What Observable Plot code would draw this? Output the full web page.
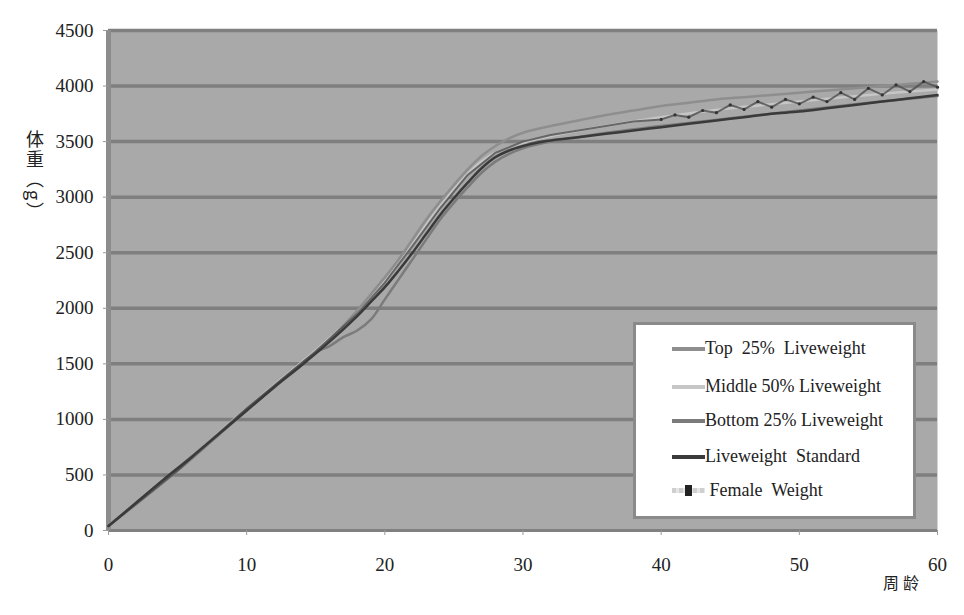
<!DOCTYPE html>
<html>
<head>
<meta charset="utf-8">
<script src="https://cdn.jsdelivr.net/npm/d3@7"></script>
<script src="https://cdn.jsdelivr.net/npm/@observablehq/plot@0.6"></script>
<style>
  html, body { margin: 0; padding: 0; background: #fff; }
  #wrap { position: relative; width: 964px; height: 615px; }
  svg text { font-family: "Liberation Serif", "Times New Roman", "DejaVu Serif", serif !important; }
  .ylab { position: absolute; left: 22px; top: 130px; writing-mode: vertical-rl; font-family: "Noto Sans CJK SC", sans-serif; font-size: 18px; color: #222; letter-spacing: 2px; }
  .xlab { position: absolute; left: 883px; top: 570px; font-family: "Noto Sans CJK SC", sans-serif; font-size: 16px; color: #222; letter-spacing: 4px; }
  #legend { position: absolute; left: 633px; top: 322px; width: 277px; height: 191px; background: #fff; border: 3px solid #8a8a8a; font-family: "Liberation Serif", "Times New Roman", "DejaVu Serif", serif; font-size: 18px; color: #222; }
  .item { position: absolute; left: 36px; display: flex; align-items: center; white-space: nowrap; }
  .sw { width: 33px; height: 4px; margin-right: 0px; position: relative; }
  .fw { background: repeating-linear-gradient(90deg, #cfcfcf 0 4px, #e6e6e6 4px 7px); height: 5px; }
  .fw::after { content: ""; position: absolute; left: 13px; top: -3px; width: 7px; height: 11px; background: #222; }
</style>
</head>
<body>
<div id="wrap"></div>
<script>
// ---- data ----
const seriesNames = ["Top 25% Liveweight", "Middle 50% Liveweight", "Bottom 25% Liveweight", "Liveweight Standard", "Female Weight"];
const seriesColors = ["#8e8e8e", "#c6c6c6", "#7b7b7b", "#3a3a3a", "#4f4f4f"];

const weeksStd = [0,2,4,6,8,10,12,14,16,18,19,20,21,22,23,24,25,26,27,28,29,30,31,32,34,36,38,40,42,44,46,48,50,52,54,56,58,60];
const valsStd  = [40,250,460,660,870,1080,1290,1490,1700,1930,2060,2190,2340,2500,2670,2840,2990,3130,3260,3360,3420,3460,3490,3510,3540,3570,3600,3630,3660,3690,3720,3750,3770,3800,3830,3860,3890,3920];

const weeksTop = [0,5,10,15,16,18,20,21,22,23,24,25,26,27,28,29,30,32,34,36,38,40,42,44,46,48,50,52,54,56,58,60];
const valsTop  = [40,560,1090,1610,1720,1980,2280,2440,2620,2800,2960,3110,3250,3370,3460,3530,3580,3640,3690,3740,3780,3820,3850,3880,3900,3920,3940,3960,3980,4000,4020,4040];

const weeksMid = [0,5,10,15,16,18,20,21,22,23,24,25,26,27,28,29,30,32,35,40,45,50,55,60];
const valsMid  = [40,550,1100,1620,1730,1960,2240,2400,2570,2750,2920,3070,3210,3320,3400,3450,3490,3550,3620,3720,3800,3860,3920,3970];

const weeksBot = [0,5,10,15,16,17,18,19,20,21,22,23,24,25,26,27,28,29,30,32,35,40,45,50,55,60];
const valsBot  = [40,540,1080,1600,1660,1740,1800,1900,2080,2260,2440,2620,2800,2950,3090,3220,3320,3390,3440,3500,3560,3640,3710,3780,3850,3910];

const weeksFem = [0,5,10,15,18,20,22,24,26,28,30,32,34,36,38,40,41,42,43,44,45,46,47,48,49,50,51,52,53,54,55,56,57,58,59,60];
const valsFem  = [40,540,1100,1610,1950,2230,2560,2900,3200,3400,3500,3560,3600,3640,3680,3700,3740,3720,3780,3760,3830,3790,3860,3810,3880,3840,3900,3860,3940,3880,3980,3920,4010,3950,4040,3990];

const xTicks = [0,10,20,30,40,50,60];
const yTicks = [0,500,1000,1500,2000,2500,3000,3500,4000,4500];

// ---- build rows ----
const toRows = (ws, vs, name) => ws.map((w, i) => ({week: w, value: vs[i], series: name}));
const rowsTop = toRows(weeksTop, valsTop, seriesNames[0]);
const rowsMid = toRows(weeksMid, valsMid, seriesNames[1]);
const rowsBot = toRows(weeksBot, valsBot, seriesNames[2]);
const rowsStd = toRows(weeksStd, valsStd, seriesNames[3]);
const rowsFem = toRows(weeksFem, valsFem, seriesNames[4]);

const chart = Plot.plot({
  width: 964,
  height: 615,
  marginLeft: 108,
  marginRight: 27,
  marginTop: 30,
  marginBottom: 85,
  style: {fontFamily: "'Liberation Serif', serif", fontSize: "19px", color: "#222", background: "#fff"},
  x: {domain: [0, 60], label: null},
  y: {domain: [0, 4500], label: null},
  marks: [
    Plot.frame({fill: "#a9a9a9", stroke: null}),
    Plot.ruleY(yTicks.slice(1), {stroke: "#7f7f7f", strokeWidth: 3.5}),
    Plot.ruleY([0], {stroke: "#808080", strokeWidth: 3}),
    Plot.ruleX([0], {stroke: "#8c8c8c", strokeWidth: 5}),
    Plot.axisX({ticks: xTicks, tickFormat: d => String(d), tickSize: 5, tickPadding: 22, stroke: "#999", fontSize: 19}),
    Plot.axisY({ticks: yTicks, tickFormat: d => String(d), tickSize: 5, tickPadding: 10, stroke: "#999", fontSize: 19}),
    Plot.line(rowsMid, {x: "week", y: "value", stroke: seriesColors[1], strokeWidth: 2.5, curve: "catmull-rom"}),
    Plot.line(rowsTop, {x: "week", y: "value", stroke: seriesColors[0], strokeWidth: 2.5, curve: "catmull-rom"}),
    Plot.line(rowsBot, {x: "week", y: "value", stroke: seriesColors[2], strokeWidth: 2.5, curve: "catmull-rom"}),
    Plot.line(rowsFem, {x: "week", y: "value", stroke: seriesColors[4], strokeWidth: 2, strokeOpacity: 0.8, curve: "linear"}),
    Plot.dot(rowsFem.filter(d => d.week >= 40), {x: "week", y: "value", fill: "#333", r: 1.6, stroke: null}),
    Plot.line(rowsStd, {x: "week", y: "value", stroke: seriesColors[3], strokeWidth: 2.5, curve: "catmull-rom"})
  ]
});

const wrap = document.getElementById("wrap");
wrap.appendChild(chart);

const yl = document.createElement("div");
yl.className = "ylab";
yl.textContent = "体重（g）";
wrap.appendChild(yl);

const xl = document.createElement("div");
xl.className = "xlab";
xl.textContent = "周龄";
wrap.appendChild(xl);

const legend = document.createElement("div");
legend.id = "legend";
const rowTops = [13, 51, 85, 121, 155];
const legendLabels = ["Top  25%  Liveweight", "Middle 50% Liveweight", "Bottom 25% Liveweight", "Liveweight  Standard", "Female  Weight"];
seriesNames.forEach((name, i) => {
  const it = document.createElement("div");
  it.className = "item";
  it.style.top = rowTops[i] + "px";
  const sw = document.createElement("div");
  sw.className = "sw" + (i === 4 ? " fw" : "");
  if (i !== 4) sw.style.background = seriesColors[i];
  const tx = document.createElement("span");
  tx.style.whiteSpace = "pre";
  tx.textContent = (i === 4 ? " " : "") + legendLabels[i];
  it.appendChild(sw);
  it.appendChild(tx);
  legend.appendChild(it);
});
wrap.appendChild(legend);
</script>
</body>
</html>
